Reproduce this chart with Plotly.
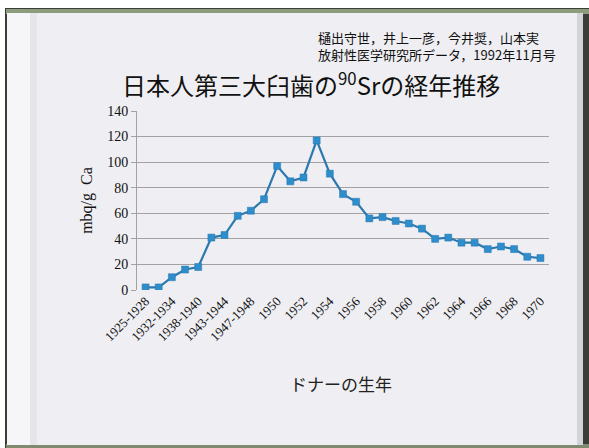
import plotly.graph_objects as go

# Data
categories = [
    '1925-1928', '1929-1931', '1932-1934', '1935-1937', '1938-1940', '1941-1942',
    '1943-1944', '1945-1946', '1947-1948', '1949', '1950', '1951', '1952', '1953',
    '1954', '1955', '1956', '1957', '1958', '1959', '1960', '1961', '1962', '1963',
    '1964', '1965', '1966', '1967', '1968', '1969', '1970',
]
sr90_values = [2, 2, 10, 16, 18, 41, 43, 58, 62, 71, 97, 85, 88, 117, 91, 75, 69,
               56, 57, 54, 52, 48, 40, 41, 37, 37, 32, 34, 32, 26, 25]
tick_labels = categories[::2]
y_ticks = [0, 20, 40, 60, 80, 100, 120, 140]

W, H = 589, 448
L, R, T, B = 137, 549, 111, 290  # plot area in pixels


def px(x):
    return (x - L) / (R - L)


def py(y):
    return (B - y) / (B - T)


def rect(x0, y0, x1, y1, color):
    return dict(type='rect', xref='paper', yref='paper', layer='below',
                x0=px(x0), x1=px(x1), y0=py(y1), y1=py(y0),
                fillcolor=color, line_width=0)


def label(text, x, y, size, xanchor='center', color='#111111'):
    return dict(text=text, xref='paper', yref='paper', x=px(x), y=py(y),
                xanchor=xanchor, yanchor='middle', showarrow=False,
                font=dict(family=CJK, size=size, color=color))


SERIF = 'Liberation Serif, DejaVu Serif, serif'
CJK = 'Noto Sans CJK JP'

fig = go.Figure()
fig.add_trace(go.Scatter(
    x=categories, y=sr90_values, mode='lines+markers',
    line=dict(color='#2B79AE', width=2.2),
    marker=dict(symbol='square', size=7, color='#2E8DCB',
                line=dict(color='#2B79AE', width=0.5)),
    showlegend=False,
))

# book-page background
shapes = [
    rect(5, 8, 589, 448, '#3B3E36'),
    rect(6, 9, 589, 14, '#8E9C7E'),
    rect(6, 444, 589, 448, '#7F8A70'),
    rect(7, 13, 583, 445, '#EFEFF3'),
    rect(7, 13, 30, 445, '#F6F6F8'),
    rect(30, 13, 37, 445, '#E6E6EA'),
    rect(577, 13, 583, 445, '#D3D3D8'),
]

fig.update_layout(
    width=W, height=H,
    margin=dict(l=L, r=W - R, t=T, b=H - B, autoexpand=False),
    paper_bgcolor='white',
    plot_bgcolor='rgba(0,0,0,0)',
    shapes=shapes,
    annotations=[
        label('日本人第三大臼歯の<sup>90</sup>Srの経年推移', 311, 84, 24),
        label('樋出守世，井上一彦，今井奨，山本実', 316, 37, 13, xanchor='left'),
        label('放射性医学研究所データ，1992年11月号', 316, 54, 13, xanchor='left'),
        label('ドナーの生年', 341, 383, 17, color='#222222'),
    ],
)

fig.update_xaxes(
    type='category', range=[-0.65, 30.65],
    tickmode='array', tickvals=tick_labels, ticktext=tick_labels,
    tickangle=-45, tickfont=dict(family=SERIF, size=13, color='#111111'),
    showgrid=False, showline=False, ticks='', zeroline=False,
)
fig.update_yaxes(
    range=[0, 140], tickvals=y_ticks,
    tickfont=dict(family=SERIF, size=14, color='#111111'),
    showgrid=True, gridcolor='#A2A2A2', gridwidth=1,
    showline=True, linecolor='#A2A2A2', linewidth=1,
    ticks='outside', ticklen=5, tickcolor='#A2A2A2',
    zeroline=False,
    title=dict(text='mbq/g  Ca', font=dict(family=SERIF, size=16, color='#111111'),
               standoff=10),
)

fig.write_html('out.html', config={'displayModeBar': False},
               post_script="document.body.style.margin='0';")
